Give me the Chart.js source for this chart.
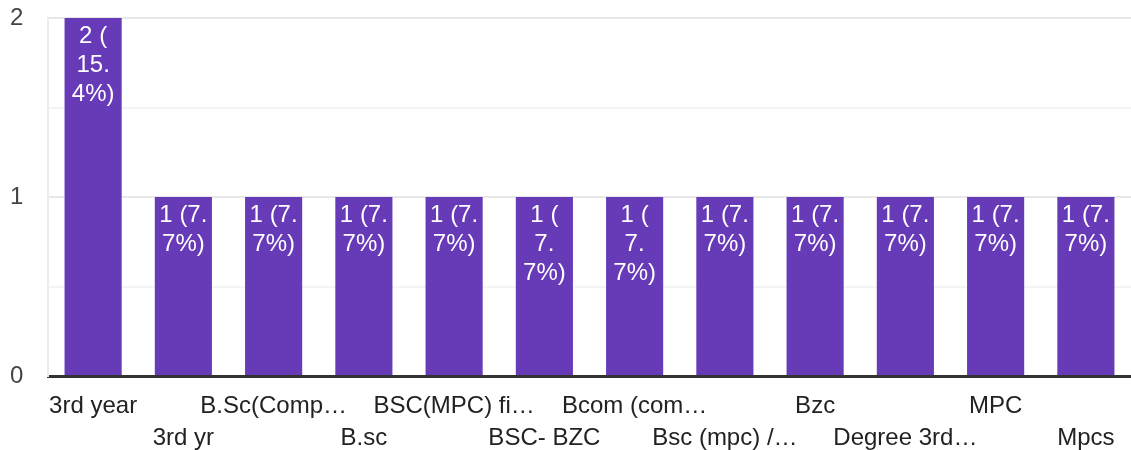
<!DOCTYPE html>
<html>
<head>
<meta charset="utf-8">
<script src="https://cdn.jsdelivr.net/npm/chart.js@4"></script>
<style>
  html, body { margin: 0; padding: 0; background: #ffffff; }
  #wrap { width: 1131px; height: 450px; }
</style>
</head>
<body>
<div id="wrap"><canvas id="c" width="1131" height="450"></canvas></div>
<script>
const categories = ["3rd year", "3rd yr", "B.Sc(Comp…", "B.sc", "BSC(MPC) fi…", "BSC- BZC",
                    "Bcom (com…", "Bsc (mpc) /…", "Bzc", "Degree 3rd…", "MPC", "Mpcs"];
const counts = [2, 1, 1, 1, 1, 1, 1, 1, 1, 1, 1, 1];
const barLabelLines = [
  ["2 (", "15.", "4%)"],
  ["1 (7.", "7%)"],
  ["1 (7.", "7%)"],
  ["1 (7.", "7%)"],
  ["1 (7.", "7%)"],
  ["1 (", "7.", "7%)"],
  ["1 (", "7.", "7%)"],
  ["1 (7.", "7%)"],
  ["1 (7.", "7%)"],
  ["1 (7.", "7%)"],
  ["1 (7.", "7%)"],
  ["1 (7.", "7%)"]
];
const yTickLabels = [0, 1, 2];

const FONT = '"Liberation Sans", Arial, sans-serif';

const barLabelPlugin = {
  id: 'barLabels',
  afterDatasetsDraw(chart) {
    const ctx = chart.ctx;
    const meta = chart.getDatasetMeta(0);
    ctx.save();
    ctx.font = '24px ' + FONT;
    ctx.fillStyle = '#ffffff';
    ctx.textAlign = 'center';
    ctx.textBaseline = 'alphabetic';
    meta.data.forEach((bar, i) => {
      const lines = barLabelLines[i] || [];
      lines.forEach((ln, j) => {
        ctx.fillText(ln, bar.x, bar.y + 25 + j * 29);
      });
    });
    ctx.restore();
  }
};

new Chart(document.getElementById('c'), {
  type: 'bar',
  data: {
    labels: categories,
    datasets: [{
      data: counts,
      backgroundColor: '#673ab7',
      borderWidth: 0,
      barPercentage: 0.633,
      categoryPercentage: 1.0
    }]
  },
  options: {
    responsive: false,
    animation: false,
    events: [],
    layout: { padding: { left: 10, right: 0, top: 18, bottom: 0 } },
    plugins: {
      legend: { display: false },
      tooltip: { enabled: false }
    },
    scales: {
      x: {
        z: 1,
        grid: { display: false },
        border: { display: true, color: '#333333', width: 3 },
        ticks: {
          autoSkip: false,
          minRotation: 0,
          maxRotation: 0,
          padding: 6,
          color: '#222222',
          font: { family: FONT, size: 24, lineHeight: 32 / 24 },
          callback: function (v, i) {
            const lab = categories[i];
            return i % 2 === 0 ? [lab] : ['', lab];
          }
        },
        afterFit(scale) { scale.height = 74; }
      },
      y: {
        min: 0,
        max: 2,
        border: { display: true, color: '#ececec', width: 2 },
        grid: {
          drawTicks: false,
          color: (c) => {
            const v = c.tick ? c.tick.value : 0;
            if (v === 0) return 'rgba(0,0,0,0)';
            return Number.isInteger(v) ? '#e8e8e8' : '#f4f4f4';
          },
          lineWidth: 2
        },
        ticks: {
          stepSize: 0.5,
          crossAlign: 'far',
          padding: 0,
          color: '#444444',
          font: { family: FONT, size: 24 },
          callback: function (v) {
            return yTickLabels.includes(v) ? String(v) : '';
          }
        },
        afterFit(scale) { scale.width = 38; }
      }
    }
  },
  plugins: [barLabelPlugin]
});
</script>
</body>
</html>
